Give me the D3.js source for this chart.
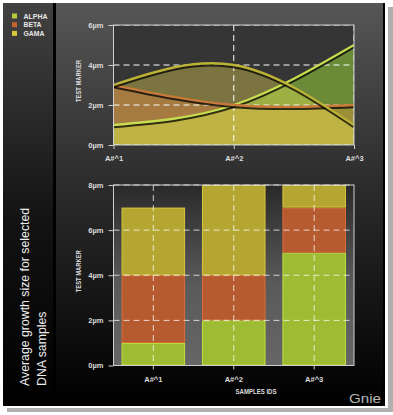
<!DOCTYPE html>
<html><head><meta charset="utf-8">
<script src="https://cdn.jsdelivr.net/npm/d3@7"></script>
<style>html,body{margin:0;padding:0;background:#fff;}svg{display:block}</style>
</head><body>
<svg id="c" width="393" height="415"></svg>
<script>
// ---- data ----
const categories = ["A#^1", "A#^2", "A#^3"];
const seriesKeys = ["alpha", "beta", "gama"];
const seriesNames = ["ALPHA", "BETA", "GAMA"];
const alpha = [1, 2, 5];
const beta = [3, 2, 2];
const gama = [3, 4, 1];
const topTicks = [0, 2, 4, 6];
const bottomTicks = [0, 2, 4, 6, 8];
const tickUnit = "µm";
const yAxisTitle = "TEST MARKER";
const xAxisTitle = "SAMPLES IDS";
const titleLines = ["Average growth size for selected", "DNA samples"];
const watermark = "Gnie";

// ---- styles ----
const legendColors = {alpha: "#b4cc3c", beta: "#c8602e", gama: "#d8c63a"};
const areaColors = {alpha: "#446c04", beta: "#520c00", gama: "#58500f"};
const lineColors = {alpha: "#c8dc50", beta: "#c87a3a", gama: "#bcb236"};
const barColors = {alpha: "#9ebb34", beta: "#b65a30", gama: "#b4a630"};
const pixFont = "'Liberation Sans', Arial, sans-serif";

const table = categories.map((c, i) => ({cat: c, alpha: alpha[i], beta: beta[i], gama: gama[i]}));
const seriesData = {alpha, beta, gama};

const svg = d3.select("#c");
const defs = svg.append("defs");

function lin(id, stops) {
  const g = defs.append("linearGradient").attr("id", id).attr("x1", 0).attr("y1", 0).attr("x2", 0).attr("y2", 1);
  stops.forEach(s => g.append("stop").attr("offset", s[0]).attr("stop-color", s[1]));
}
lin("gLeft", [[0, "#424242"], [0.55, "#121212"], [1, "#000000"]]);
lin("gRight", [[0, "#565656"], [0.45, "#2c2c2c"], [1, "#000000"]]);
lin("gBarBg", [[0, "#2a2a2a"], [0.55, "#5a5a5a"], [1, "#666666"]]);

// frame
svg.append("rect").attr("x", 7).attr("y", 7).attr("width", 386).attr("height", 405).attr("fill", "#b0b0b0");
svg.append("rect").attr("x", 0).attr("y", 0).attr("width", 388).attr("height", 408).attr("fill", "#ffffff");
svg.append("rect").attr("x", 3).attr("y", 3).attr("width", 382).attr("height", 403).attr("fill", "#000");
svg.append("rect").attr("x", 3).attr("y", 3).attr("width", 50).attr("height", 402).attr("fill", "url(#gLeft)");
svg.append("rect").attr("x", 56).attr("y", 3).attr("width", 327).attr("height", 402).attr("fill", "url(#gRight)");

// legend
const leg = svg.append("g");
seriesKeys.forEach((k, i) => {
  const yy = 13.5 + i * 8.7;
  leg.append("rect").attr("x", 12).attr("y", yy).attr("width", 5).attr("height", 5).attr("fill", legendColors[k]);
  leg.append("text").attr("x", 23.5).attr("y", yy + 5).attr("font-family", pixFont).attr("font-size", 7)
    .attr("font-weight", "bold").attr("fill", "#e8e8e8").attr("textLength", 24 - (i === 1 ? 6 : i === 2 ? 3 : 0))
    .attr("lengthAdjust", "spacingAndGlyphs").text(seriesNames[i]);
});

// title
const tl = svg.append("g");
[29.3, 45.7].forEach((bx, i) => {
  tl.append("text").attr("transform", `translate(${bx},386) rotate(-90)`)
    .attr("font-family", "'Liberation Sans', Arial, sans-serif").attr("font-size", 12.3).attr("fill", "#eeeeee")
    .text(titleLines[i]);
});

// watermark
svg.append("text").attr("x", 349).attr("y", 403).attr("font-family", "'Liberation Sans', sans-serif")
  .attr("font-size", 13).attr("fill", "#b8b8b8").attr("textLength", 32).attr("lengthAdjust", "spacingAndGlyphs").text(watermark);

// ---------- TOP CHART ----------
const tL = 113.5, tR = 354, tT = 25, tB = 145;
const xT = d3.scalePoint().domain(categories).range([tL, tR]);
const yT = d3.scaleLinear().domain([0, 6]).range([tB, tT]);
defs.append("clipPath").attr("id", "clipT").append("rect").attr("x", tL).attr("y", tT).attr("width", tR - tL).attr("height", tB - tT);

const topG = svg.append("g");
const areasG = topG.append("g").attr("clip-path", "url(#clipT)");
areasG.append("rect").attr("x", tL).attr("y", tT).attr("width", tR - tL).attr("height", tB - tT).attr("fill", "#353535");

const gridT = areasG.append("g");
topTicks.forEach(t => gridT.append("line").attr("x1", tL).attr("x2", tR).attr("y1", yT(t)).attr("y2", yT(t))
  .attr("stroke", "#ffffff").attr("stroke-width", 1).attr("stroke-dasharray", "6,4"));
categories.forEach(c => gridT.append("line").attr("x1", xT(c)).attr("x2", xT(c)).attr("y1", tT).attr("y2", tB)
  .attr("stroke", "#ffffff").attr("stroke-width", 1).attr("stroke-dasharray", "6,4"));

const areaGen = d3.area().curve(d3.curveNatural).x((d, i) => xT(categories[i])).y0(yT(0)).y1(d => yT(d));
const lineGen = d3.line().curve(d3.curveNatural).x((d, i) => xT(categories[i])).y(d => yT(d));
seriesKeys.forEach(k => {
  areasG.append("path").attr("d", areaGen(seriesData[k])).attr("fill", areaColors[k]).style("mix-blend-mode", "screen");
});
seriesKeys.forEach(k => {
  areasG.append("path").attr("d", lineGen(seriesData[k])).attr("fill", "none").attr("stroke", "#000")
    .attr("stroke-opacity", 0.75).attr("stroke-width", 3.2).attr("transform", "translate(0,1.6)");
  areasG.append("path").attr("d", lineGen(seriesData[k])).attr("fill", "none").attr("stroke", lineColors[k])
    .attr("stroke-width", 2.3);
});
topG.append("rect").attr("x", tL).attr("y", tT).attr("width", tR - tL).attr("height", tB - tT)
  .attr("fill", "none").attr("stroke", "#cfcfcf").attr("stroke-width", 1);

function styleAxis(g) {
  g.select(".domain").remove();
  g.selectAll("line").attr("stroke", "#d0d0d0");
  g.selectAll("text").attr("fill", "#dddddd").attr("font-family", pixFont).attr("font-size", 7.5).attr("font-weight", "bold");
}
topG.append("g").attr("transform", `translate(${tL},0)`)
  .call(d3.axisLeft(yT).tickValues(topTicks).tickSize(5).tickPadding(5).tickFormat(d => d + tickUnit)).call(styleAxis);
topG.append("g").attr("transform", `translate(0,${tB})`)
  .call(d3.axisBottom(xT).tickSize(4).tickPadding(7)).call(styleAxis);
topG.append("text").attr("transform", `translate(80.5,${(tT + tB) / 2 - 4}) rotate(-90)`).attr("text-anchor", "middle")
  .attr("font-family", pixFont).attr("font-size", 7).attr("font-weight", "bold").attr("fill", "#dddddd")
  .attr("textLength", 42).attr("lengthAdjust", "spacingAndGlyphs").text(yAxisTitle);

// ---------- BOTTOM CHART ----------
const bL = 113.5, bR = 354, bT = 185, bB = 365.5;
const xB = d3.scaleBand().domain(categories).range([bL, bR]).paddingInner(0.21).paddingOuter(0.1);
const yB = d3.scaleLinear().domain([0, 8]).range([bB, bT]);
const botG = svg.append("g");
botG.append("rect").attr("x", bL).attr("y", bT).attr("width", bR - bL).attr("height", bB - bT).attr("fill", "url(#gBarBg)");

const stacked = d3.stack().keys(seriesKeys)(table);
stacked.forEach(layer => {
  const k = layer.key;
  botG.append("g").selectAll("rect").data(layer).join("rect")
    .attr("x", d => xB(d.data.cat) + 0.5).attr("width", xB.bandwidth() - 1)
    .attr("y", d => yB(d[1]) + 0.5).attr("height", d => yB(d[0]) - yB(d[1]) - 1)
    .attr("fill", barColors[k]).attr("stroke", d3.color(barColors[k]).brighter(0.5)).attr("stroke-width", 1);
});
const gridB = botG.append("g");
bottomTicks.forEach(t => gridB.append("line").attr("x1", bL).attr("x2", bR).attr("y1", yB(t)).attr("y2", yB(t))
  .attr("stroke", "#ffffff").attr("stroke-opacity", 0.75).attr("stroke-dasharray", "6,4"));
categories.forEach(c => gridB.append("line").attr("x1", xB(c) + xB.bandwidth() / 2).attr("x2", xB(c) + xB.bandwidth() / 2)
  .attr("y1", bT).attr("y2", bB).attr("stroke", "#ffffff").attr("stroke-opacity", 0.75).attr("stroke-dasharray", "6,4"));
botG.append("rect").attr("x", bL).attr("y", bT).attr("width", bR - bL).attr("height", bB - bT)
  .attr("fill", "none").attr("stroke", "#cfcfcf").attr("stroke-width", 1);
botG.append("g").attr("transform", `translate(${bL},0)`)
  .call(d3.axisLeft(yB).tickValues(bottomTicks).tickSize(5).tickPadding(5).tickFormat(d => d + tickUnit)).call(styleAxis);
botG.append("g").attr("transform", `translate(0,${bB})`)
  .call(d3.axisBottom(xB).tickSize(4).tickPadding(7)).call(styleAxis);
botG.append("text").attr("transform", `translate(81,${(bT + bB) / 2 - 4}) rotate(-90)`).attr("text-anchor", "middle")
  .attr("font-family", pixFont).attr("font-size", 7).attr("font-weight", "bold").attr("fill", "#dddddd")
  .attr("textLength", 42).attr("lengthAdjust", "spacingAndGlyphs").text(yAxisTitle);
botG.append("text").attr("x", 256).attr("y", 394).attr("text-anchor", "middle")
  .attr("font-family", pixFont).attr("font-size", 7).attr("font-weight", "bold").attr("fill", "#dddddd")
  .attr("textLength", 41).attr("lengthAdjust", "spacingAndGlyphs").text(xAxisTitle);
</script>
</body></html>
